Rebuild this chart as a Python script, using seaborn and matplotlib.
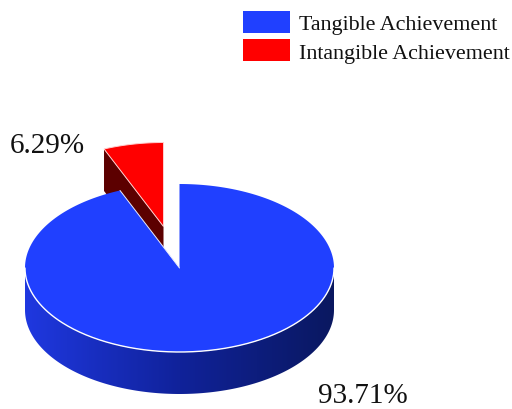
import numpy as np
import matplotlib
matplotlib.use("Agg")
import matplotlib.pyplot as plt
from matplotlib.patches import Polygon, Patch
from matplotlib.colors import LinearSegmentedColormap
import seaborn as sns

categories = ["Tangible Achievement", "Intangible Achievement"]
shares = [93.71, 6.29]
share_labels = ["93.71%", "6.29%"]
colors = ["#2040ff", "#ff0000"]
side_colors = ["#1f38e0", "#10229a", "#0a1860"]
cut_color = "#5c0000"

sns.set_theme(style="white")
plt.rcParams["font.family"] = ["Liberation Serif", "DejaVu Serif"]
palette = sns.color_palette(colors)

fig = plt.figure(figsize=(5.12, 4.10), dpi=100)
ax = fig.add_axes([0, 0, 1, 1])
ax.set_xlim(0, 512)
ax.set_ylim(410, 0)
ax.axis("off")

cx, cy, rx, ry, depth = 179.5, 269, 154.5, 84, 42
dx, dy = -16, -41.5
fractions = np.array(shares) / sum(shares)
split = fractions[0] * 2 * np.pi


def rim(a, b, ox=0, oy=0, n=240):
    t = np.linspace(a, b, n)
    return np.column_stack([cx + ox + rx * np.sin(t), cy + oy - ry * np.cos(t)])


# Exploded wedge: cut face, then top
rc = np.array([cx + dx, cy + dy])
left = rim(split, split, dx, dy, 1)[0]
ax.add_patch(Polygon([left, rc, rc + [0, depth], left + [0, depth]],
                     fc=cut_color, ec="none", zorder=2))
ax.add_patch(Polygon(np.vstack([[rc], rim(split, 2 * np.pi, dx, dy)]),
                     fc=palette[1], ec="#ffd0d0", lw=0.7, zorder=3))

# Main body side wall, with a left-to-right gradient
front = rim(np.pi / 2, 3 * np.pi / 2)
wall = np.vstack([front, (front + [0, depth])[::-1]])
clip = Polygon(wall, fc="none", ec="none", transform=ax.transData)
ax.add_patch(clip)
cmap = LinearSegmentedColormap.from_list("side", side_colors)
grad = ax.imshow(np.linspace(0, 1, 256)[None, :], cmap=cmap, aspect="auto",
                 extent=[cx - rx, cx + rx, cy + ry + depth, cy - 5], zorder=1)
grad.set_clip_path(clip)
ax.set_xlim(0, 512)
ax.set_ylim(410, 0)

# Main top
ax.add_patch(Polygon(np.vstack([[[cx, cy]], rim(0, split)]),
                     fc=palette[0], ec="none", zorder=4))
ax.plot(*rim(np.pi / 2, 3 * np.pi / 2).T, color="white", lw=1.0, zorder=5)
cut = rim(split, split, n=1)[0]
ax.plot([cut[0], cx], [cut[1], cy], color="#e8ecff", lw=0.7, zorder=5)

# Value labels
ax.text(318, 403.5, share_labels[0], fontsize=21, color="#111111", va="baseline", ha="left", zorder=6)
ax.text(10, 153, share_labels[1], fontsize=21, color="#111111", va="baseline", ha="left", zorder=6)

# Legend
handles = [Patch(fc=palette[i], ec="none", label=categories[i]) for i in range(2)]
ax.legend(handles=handles, loc="upper left", bbox_to_anchor=(243 / 512, 1 - 12 / 410),
          frameon=False, fontsize=15.8, handlelength=2.14, handleheight=1.16,
          handletextpad=0.41, labelspacing=0.22, borderpad=0, borderaxespad=0,
          labelcolor="#111111")

fig.savefig("out.png", dpi=100)
